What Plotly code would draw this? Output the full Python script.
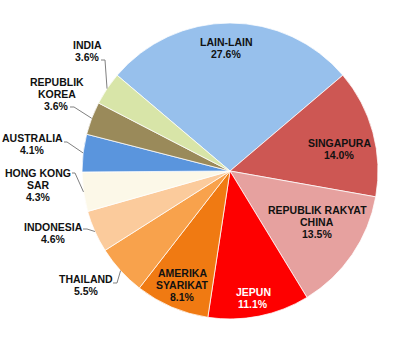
import math
import plotly.graph_objects as go

labels = ["LAIN-LAIN", "SINGAPURA", "REPUBLIK RAKYAT CHINA", "JEPUN", "AMERIKA SYARIKAT",
          "THAILAND", "INDONESIA", "HONG KONG SAR", "AUSTRALIA", "REPUBLIK KOREA", "INDIA"]
values = [27.6, 14.0, 13.5, 11.1, 8.1, 5.5, 4.6, 4.3, 4.1, 3.6, 3.6]
label_lines = [["LAIN-LAIN"], ["SINGAPURA"], ["REPUBLIK RAKYAT", "CHINA"], ["JEPUN"], ["AMERIKA", "SYARIKAT"],
               ["THAILAND"], ["INDONESIA"], ["HONG KONG", "SAR"], ["AUSTRALIA"], ["REPUBLIK", "KOREA"], ["INDIA"]]
colors = ["#97C0EC", "#CD5753", "#E6A19F", "#FE0000", "#F07A12",
          "#F8A24C", "#FBCB9C", "#FCF8E8", "#5A95DD", "#9A8A5A", "#D8E5A8"]
text_colors = ["#111", "#111", "#111", "#fff", "#111", "#111", "#111", "#111", "#111", "#111", "#111"]

# layout (pixels)
W, H = 420, 350
CX, CY, R = 230, 171, 148
START = -49.7  # degrees clockwise from 12 o'clock
LINE_H = 12

# label centres (pixels)
label_pos = [(226, 48), (339, 149), (317, 222), (253, 298), (182, 285),
             (86, 285), (53, 233), (38, 185), (32, 144), (57, 94), (87, 51)]
# leader line start and elbow (pixels), None for inside labels
leaders = [None, None, None, None, None,
           ((113, 283), (117, 283)), ((83, 229), (87, 229)), ((72, 173), (75, 173)),
           ((64, 142), (67, 142)), ((70, 107), (74, 107)), ((101, 60), (105, 60))]

fig = go.Figure(go.Pie(
    labels=labels, values=values, sort=False, direction="clockwise", rotation=START,
    marker=dict(colors=colors, line=dict(color="rgba(255,255,255,0.75)", width=1)),
    textinfo="none", hoverinfo="label+percent", showlegend=False,
    domain=dict(x=[(CX - R) / W, (CX + R) / W], y=[1 - (CY + R) / H, 1 - (CY - R) / H]),
))

def px(x, y):
    return x / W, 1 - y / H

total = sum(values)
cum = 0.0
annotations = []
shapes = []
for i, v in enumerate(values):
    mid = math.radians(START + (cum + v / 2) / total * 360)
    cum += v
    lx, ly = label_pos[i]
    lines = label_lines[i] + ["%.1f%%" % v]
    n = len(lines)
    for k, t in enumerate(lines):
        yy = ly + (k - (n - 1) / 2) * LINE_H
        ax, ay = px(lx, yy)
        annotations.append(dict(
            x=ax, y=ay, xref="paper", yref="paper", xanchor="center", yanchor="middle",
            text="<b>%s</b>" % t, showarrow=False,
            font=dict(family="Liberation Sans, Arial, sans-serif", size=10.5, color=text_colors[i]),
        ))
    if leaders[i] is not None:
        (sx, sy), (ex, ey) = leaders[i]
        edx = CX + R * math.sin(mid)
        edy = CY - R * math.cos(mid)
        p = [px(sx, sy), px(ex, ey), px(edx, edy)]
        shapes.append(dict(
            type="path", xref="paper", yref="paper",
            path="M %f,%f L %f,%f L %f,%f" % (p[0][0], p[0][1], p[1][0], p[1][1], p[2][0], p[2][1]),
            line=dict(color="#808080", width=1),
        ))

fig.update_layout(
    width=W, height=H, margin=dict(l=0, r=0, t=0, b=0),
    paper_bgcolor="white", plot_bgcolor="white",
    annotations=annotations, shapes=shapes,
)
fig.write_html("out.html")
